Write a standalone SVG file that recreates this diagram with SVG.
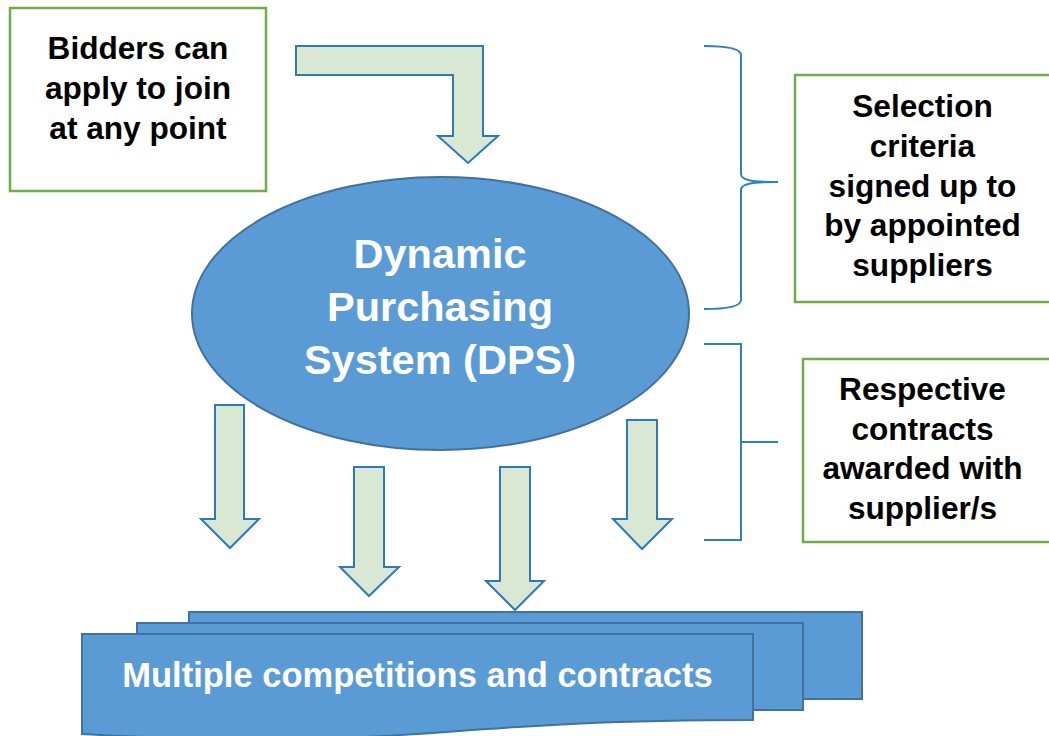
<svg xmlns="http://www.w3.org/2000/svg" width="1049" height="736" viewBox="0 0 1049 736">
<style>
.box{fill:#fff;stroke:#70AD47;stroke-width:2.5}
.arr{fill:#D8E8D2;stroke:#2E79BD;stroke-width:2;stroke-linejoin:miter}
.brace{fill:none;stroke:#2E7FC4;stroke-width:2}
.blue{fill:#5B9BD5;stroke:#41719C;stroke-width:2}
.bt{font-family:"Liberation Sans",Arial,sans-serif;font-weight:bold;font-size:31.6px;fill:#000;text-anchor:middle}
.wt{font-family:"Liberation Sans",Arial,sans-serif;font-weight:bold;fill:#fff;text-anchor:middle}
</style>
<rect width="1049" height="736" fill="#fff"/>
<g id="connectors">
<path class="arr" d="M296,46 L483,46 L483,136 L498,136 L468,163 L438,136 L453,136 L453,75 L296,75 Z"/>
<path class="arr" d="M215,405 L244,405 L244,519 L259,519 L230,548 L201,519 L215,519 Z"/>
<path class="arr" d="M354,467 L384,467 L384,567 L399,567 L369,596 L340,567 L354,567 Z"/>
<path class="arr" d="M500,467 L530,467 L530,581 L544,581 L515,610 L486,581 L500,581 Z"/>
<path class="arr" d="M627,420 L657,420 L657,519 L672,519 L642,549 L613,519 L627,519 Z"/>
<path class="brace" d="M704,46 C724,46 741,48 741,55 L741,174 C741,180 750,182 778,182 C750,182 741,184 741,190 L741,300 C741,307 724,309 704,309"/>
<path class="brace" d="M704,344 L741,344 L741,540 L704,540 M741,442 L778,442"/>
</g>
<g id="bidders">
<rect class="box" x="10" y="8" width="256" height="183"/>
<text class="bt" x="138" y="59">Bidders can</text>
<text class="bt" x="138" y="99">apply to join</text>
<text class="bt" x="138" y="139">at any point</text>
</g>
<g id="dps">
<ellipse class="blue" cx="440.5" cy="313.5" rx="248.5" ry="136.5"/>
<text class="wt" font-size="41.5" x="440" y="268">Dynamic</text>
<text class="wt" font-size="41.5" x="440" y="321">Purchasing</text>
<text class="wt" font-size="41.5" x="440" y="374">System (DPS)</text>
</g>
<g id="selection">
<rect class="box" x="795" y="75" width="270" height="227"/>
<text class="bt" x="922.5" y="117">Selection</text>
<text class="bt" x="922.5" y="157">criteria</text>
<text class="bt" x="922.5" y="197">signed up to</text>
<text class="bt" x="922.5" y="236">by appointed</text>
<text class="bt" x="922.5" y="276">suppliers</text>
</g>
<g id="respective">
<rect class="box" x="803" y="359" width="270" height="183"/>
<text class="bt" x="922.5" y="400">Respective</text>
<text class="bt" x="922.5" y="440">contracts</text>
<text class="bt" x="922.5" y="479">awarded with</text>
<text class="bt" x="922.5" y="519">supplier/s</text>
</g>
<g id="multiple">
<rect class="blue" x="189" y="612" width="673" height="87"/>
<rect class="blue" x="137" y="623" width="666" height="87"/>
<path class="blue" d="M82,634 L753,634 L753,720 C417.5,720 417.5,752.5 82,734 Z"/>
<text class="wt" font-size="34.5" x="417.5" y="687">Multiple competitions and contracts</text>
</g>
</svg>
